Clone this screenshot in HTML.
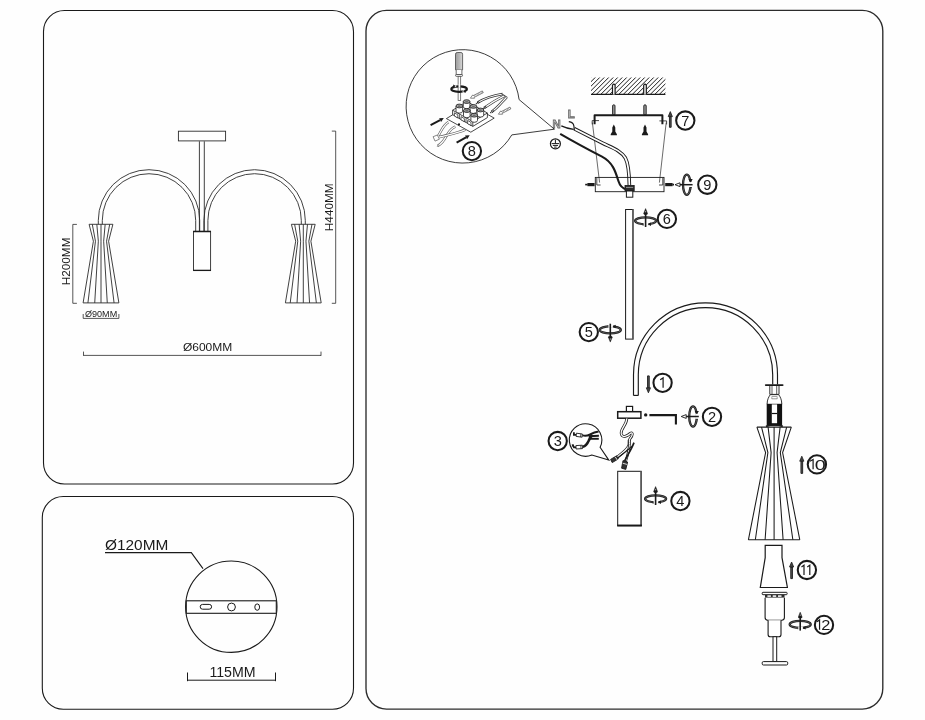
<!DOCTYPE html>
<html><head><meta charset="utf-8"><title>Lamp assembly diagram</title>
<style>
html,body{margin:0;padding:0;background:#fefefe;}
body{width:925px;height:720px;overflow:hidden;font-family:"Liberation Sans",sans-serif;}
svg{display:block;filter:grayscale(1);}
</style></head><body>
<svg width="925" height="720" viewBox="0 0 925 720">
<rect x="0" y="0" width="925" height="720" fill="#fefefe"/>
<g fill="none" stroke="#1a1a1a" stroke-width="1.1">
<rect x="43.5" y="10.5" width="310" height="473.5" rx="21" ry="21"/>
<rect x="42.3" y="496.5" width="311.2" height="212.8" rx="21" ry="21"/>
</g>
<rect x="366.0" y="10.4" width="516.8" height="698.7" rx="20.5" ry="20.5" fill="none" stroke="#2c2c2c" stroke-width="1.35"/>
<g fill="none" stroke="#2b2b2b" stroke-width="0.9">
<rect x="178.4" y="131.2" width="47.2" height="9.7"/>
<line x1="199.4" y1="141.3" x2="199.4" y2="231.3"/><line x1="204.3" y1="141.3" x2="204.3" y2="231.3"/>
<path d="M98.30,224.3 V220.4 A50.7,50.7 0 0 1 199.70,220.4 V231.3"/>
<path d="M102.30,224.3 V220.4 A46.7,46.7 0 0 1 195.70,220.4 V231.3"/>
<path d="M305.30,224.3 V220.4 A50.7,50.7 0 0 0 203.90,220.4 V231.3"/>
<path d="M301.30,224.3 V220.4 A46.7,46.7 0 0 0 207.90,220.4 V231.3"/>
</g>
<rect x="193.5" y="231.4" width="17.1" height="39" fill="#fff" stroke="#2b2b2b" stroke-width="0.9"/>
<line x1="193.2" y1="231.5" x2="211" y2="231.5" stroke="#1a1a1a" stroke-width="1.5"/>
<line x1="193.2" y1="270.4" x2="211" y2="270.4" stroke="#1a1a1a" stroke-width="1.3"/>
<g fill="none" stroke="#2b2b2b" stroke-width="0.9" stroke-linejoin="miter"><polyline points="89.10,224.3 93.40,241.2 83.10,302.9"/><polyline points="92.31,224.3 95.45,241.2 87.93,302.9"/><polyline points="96.83,224.3 98.34,241.2 94.73,302.9"/><polyline points="101.00,224.3 101.00,241.2 101.00,302.9"/><polyline points="105.17,224.3 103.66,241.2 107.27,302.9"/><polyline points="109.69,224.3 106.55,241.2 114.07,302.9"/><polyline points="112.90,224.3 108.60,241.2 118.90,302.9"/><line x1="89.10" y1="224.3" x2="112.90" y2="224.3"/><line x1="83.10" y1="302.9" x2="118.90" y2="302.9"/></g>
<g fill="none" stroke="#2b2b2b" stroke-width="0.9" stroke-linejoin="miter"><polyline points="291.40,224.3 295.70,241.2 285.40,302.9"/><polyline points="294.61,224.3 297.75,241.2 290.23,302.9"/><polyline points="299.13,224.3 300.64,241.2 297.04,302.9"/><polyline points="303.30,224.3 303.30,241.2 303.30,302.9"/><polyline points="307.47,224.3 305.96,241.2 309.56,302.9"/><polyline points="311.99,224.3 308.85,241.2 316.37,302.9"/><polyline points="315.20,224.3 310.90,241.2 321.20,302.9"/><line x1="291.40" y1="224.3" x2="315.20" y2="224.3"/><line x1="285.40" y1="302.9" x2="321.20" y2="302.9"/></g>
<g fill="none" stroke="#2b2b2b" stroke-width="0.8">
<path d="M76.9,224.4 H72.8 V303.3 H76.9"/>
<path d="M83.2,314 V318.4 H118.9 V314"/>
<path d="M83.5,351.6 V355.8 M83.5,355.4 H321 M321,351.6 V355.8"/>
<path d="M331.8,131.1 H335.7 V303.3 H331.8"/>
</g>
<text x="70.3" y="285.3" font-family="Liberation Sans, sans-serif" font-size="11" font-weight="normal" text-anchor="start" fill="#1a1a1a" textLength="47.8" lengthAdjust="spacingAndGlyphs" transform="rotate(-90 70.3 285.3)">H200MM</text>
<text x="333.5" y="231.2" font-family="Liberation Sans, sans-serif" font-size="11.1" font-weight="normal" text-anchor="start" fill="#1a1a1a" textLength="47.9" lengthAdjust="spacingAndGlyphs" transform="rotate(-90 333.5 231.2)">H440MM</text>
<text x="85.0" y="316.8" font-family="Liberation Sans, sans-serif" font-size="8.6" font-weight="normal" text-anchor="start" fill="#1a1a1a" textLength="32.2" lengthAdjust="spacingAndGlyphs">&#216;90MM</text>
<text x="182.9" y="350.8" font-family="Liberation Sans, sans-serif" font-size="10.6" font-weight="normal" text-anchor="start" fill="#1a1a1a" textLength="49.4" lengthAdjust="spacingAndGlyphs">&#216;600MM</text>
<g fill="none" stroke="#1a1a1a" stroke-width="1.1">
<circle cx="231.3" cy="606.7" r="45.7"/>
<path d="M105,552.6 H191.3 L203,568.6"/>
</g>
<rect x="186.3" y="600.8" width="90" height="12.5" fill="#fff" stroke="#1a1a1a" stroke-width="1.1"/>
<g fill="#fff" stroke="#1a1a1a" stroke-width="1">
<rect x="200.2" y="604.4" width="11.4" height="4.8" rx="2.4"/>
<circle cx="231.5" cy="607" r="3.9"/>
<ellipse cx="257.2" cy="607.1" rx="2.4" ry="3.2"/>
</g>
<path d="M187.5,672.5 V681.2 M187.5,680.2 H275.5 M275.5,672.5 V681.2" fill="none" stroke="#1a1a1a" stroke-width="1"/>
<text x="105.0" y="550.2" font-family="Liberation Sans, sans-serif" font-size="14" font-weight="normal" text-anchor="start" fill="#1a1a1a" textLength="63.3" lengthAdjust="spacingAndGlyphs">&#216;120MM</text>
<text x="209.4" y="677.4" font-family="Liberation Sans, sans-serif" font-size="14.4" font-weight="normal" text-anchor="start" fill="#1a1a1a" textLength="46.2" lengthAdjust="spacingAndGlyphs">115MM</text>
<clipPath id="hc"><rect x="591" y="77.6" width="74.4" height="16.4"/></clipPath>
<g clip-path="url(#hc)" stroke="#1c1c1c" stroke-width="1.0"><line x1="573.2" y1="95" x2="591.2" y2="77"/><line x1="577.7" y1="95" x2="595.7" y2="77"/><line x1="582.2" y1="95" x2="600.2" y2="77"/><line x1="586.7" y1="95" x2="604.7" y2="77"/><line x1="591.2" y1="95" x2="609.2" y2="77"/><line x1="595.7" y1="95" x2="613.7" y2="77"/><line x1="600.2" y1="95" x2="618.2" y2="77"/><line x1="604.7" y1="95" x2="622.7" y2="77"/><line x1="609.2" y1="95" x2="627.2" y2="77"/><line x1="613.7" y1="95" x2="631.7" y2="77"/><line x1="618.2" y1="95" x2="636.2" y2="77"/><line x1="622.7" y1="95" x2="640.7" y2="77"/><line x1="627.2" y1="95" x2="645.2" y2="77"/><line x1="631.7" y1="95" x2="649.7" y2="77"/><line x1="636.2" y1="95" x2="654.2" y2="77"/><line x1="640.7" y1="95" x2="658.7" y2="77"/><line x1="645.2" y1="95" x2="663.2" y2="77"/><line x1="649.7" y1="95" x2="667.7" y2="77"/><line x1="654.2" y1="95" x2="672.2" y2="77"/><line x1="658.7" y1="95" x2="676.7" y2="77"/><line x1="663.2" y1="95" x2="681.2" y2="77"/><line x1="667.7" y1="95" x2="685.7" y2="77"/></g>
<line x1="591" y1="94.4" x2="665.4" y2="94.4" stroke="#1a1a1a" stroke-width="1.2"/>
<path d="M612.5,94.4 V85.2 Q613.8,83 615.0999999999999,85.2 V94.4" fill="#fefefe" stroke="#1a1a1a" stroke-width="1.2"/>
<path d="M643.7,94.4 V85.2 Q645.0,83 646.3,85.2 V94.4" fill="#fefefe" stroke="#1a1a1a" stroke-width="1.2"/>
<rect x="612.5999999999999" y="104.8" width="2.4" height="10.4" rx="1.1" fill="#9a9a9a" stroke="#1a1a1a" stroke-width="0.9"/>
<path d="M613.8,124.4 L615.3,127.4 V131.4 L616.9,134.2 V135.2 H610.6999999999999 V134.2 L612.3,131.4 V127.4 Z" fill="#1a1a1a"/>
<rect x="643.8" y="104.8" width="2.4" height="10.4" rx="1.1" fill="#9a9a9a" stroke="#1a1a1a" stroke-width="0.9"/>
<path d="M645.0,124.4 L646.5,127.4 V131.4 L648.1,134.2 V135.2 H641.9 V134.2 L643.5,131.4 V127.4 Z" fill="#1a1a1a"/>
<path d="M594.6,124.2 V115.3 H662.4 V124.2" fill="none" stroke="#1a1a1a" stroke-width="2" stroke-linejoin="round"/>
<path d="M592.2,124.4 V120.6 H599 M659.4,120.9 H666.6 V124.4" fill="none" stroke="#1a1a1a" stroke-width="0.8"/>
<g fill="none" stroke="#2a2a2a" stroke-width="0.7">
<line x1="592.4" y1="122.6" x2="599.6" y2="182.6"/>
<line x1="666.2" y1="122.6" x2="659.4" y2="182.6"/>
</g>
<path d="M574.2,128.7 L602.5,143.1 C612,147.8 621,150.6 625.4,158 C628.6,164 629.2,174 629.4,185.6" fill="none" stroke="#1a1a1a" stroke-width="3.6"/>
<path d="M574.2,128.7 L602.5,143.1 C612,147.8 621,150.6 625.4,158 C628.6,164 629.2,174 629.4,185.6" fill="none" stroke="#fefefe" stroke-width="1.7"/>
<path d="M568.8,121.7 C571.4,122 573.6,123.8 573.9,126 C574.1,127.6 574.2,128.8 574.3,130" fill="none" stroke="#1a1a1a" stroke-width="1.2"/>
<path d="M561.3,125.8 C565,127.6 569,128.6 573.6,129.3" fill="none" stroke="#1a1a1a" stroke-width="1.3"/>
<path d="M560.2,133.8 C575,142.4 590,150.4 602,156.6 C613,162.4 615.6,172 618.4,181 C620,186 622.6,188.6 626.4,189.4" fill="none" stroke="#1a1a1a" stroke-width="2.1"/>
<rect x="595.3" y="177.4" width="68.7" height="14.3" fill="none" stroke="#1a1a1a" stroke-width="0.9"/>
<path d="M596.8,178 V185 H600.6 M659,185 H662.8 V178" fill="none" stroke="#1a1a1a" stroke-width="0.8"/>
<path d="M594.6,184.6 H587.4" stroke="#1a1a1a" stroke-width="3.2" fill="none"/><path d="M587.6,184.6 H585.2" stroke="#1a1a1a" stroke-width="1.6" fill="none"/>
<path d="M665.2,184.6 H672.6" stroke="#1a1a1a" stroke-width="3.2" fill="none"/><path d="M672.4,184.6 H674" stroke="#1a1a1a" stroke-width="1.6" fill="none"/>
<rect x="625" y="185.4" width="9.2" height="5.6" fill="#2a2a2a" stroke="#1a1a1a" stroke-width="0.8"/>
<line x1="626" y1="187.4" x2="633.2" y2="187.4" stroke="#ddd" stroke-width="0.6"/>
<rect x="626.4" y="191" width="6.4" height="6.2" fill="#fff" stroke="#1a1a1a" stroke-width="1"/>
<text x="552.4" y="127.5" font-family="Liberation Sans, sans-serif" font-size="11.4" font-weight="bold" text-anchor="start" fill="#c4c4c4" stroke="#6a6a6a" stroke-width="0.8">N</text>
<text x="567.8" y="118.2" font-family="Liberation Sans, sans-serif" font-size="11.4" font-weight="bold" text-anchor="start" fill="#c4c4c4" stroke="#6a6a6a" stroke-width="0.8">L</text>
<circle cx="555.4" cy="143.8" r="5" fill="#fff" stroke="#1a1a1a" stroke-width="1.2"/>
<path d="M555.4,139.8 V143.6 M551.6,143.6 H559.2 M552.8,145.4 H558 M554.1,147.1 H556.7" fill="none" stroke="#1a1a1a" stroke-width="1"/>
<path d="M669.4499999999999,127.3 V116.60 H671.15 V127.3 Z" fill="#555" stroke="#1a1a1a" stroke-width="0.9" stroke-linejoin="miter"/><path d="M670.3,111.6 L668.1999999999999,116.60 H672.4 Z" fill="#444" stroke="#1a1a1a" stroke-width="0.8" stroke-linejoin="miter"/>
<circle cx="685.3" cy="120.5" r="9.15" fill="#fff" stroke="#1a1a1a" stroke-width="2.05"/><text x="685.3" y="125.61" font-family="Liberation Sans, sans-serif" font-size="14.6" font-weight="normal" text-anchor="middle" fill="#1a1a1a">7</text>
<g transform="translate(686.8 184.7)"><ellipse cx="0" cy="0" rx="3.8" ry="10.1" fill="none" stroke="#1a1a1a" stroke-width="2.3"/><ellipse cx="0" cy="0" rx="3.8" ry="10.1" fill="none" stroke="#bbb" stroke-width="0.35"/><rect x="2.2" y="-3.0" width="3.4" height="5.8" fill="#fefefe"/><path d="M3.8,-2.2 l-2.1,-3.4 h4.2z" fill="#1a1a1a"/><path d="M2.6,2.8 h2.4" stroke="#1a1a1a" stroke-width="0.9"/><line x1="-7" y1="0" x2="5.8" y2="0" stroke="#1a1a1a" stroke-width="1.5"/><path d="M-11.8,0 L-6.8,-1.9 V1.9 Z" fill="#fff" stroke="#1a1a1a" stroke-width="0.9" stroke-linejoin="miter"/></g>
<circle cx="707.3" cy="184.7" r="9.15" fill="#fff" stroke="#1a1a1a" stroke-width="2.05"/><text x="707.3" y="189.81" font-family="Liberation Sans, sans-serif" font-size="14.6" font-weight="normal" text-anchor="middle" fill="#1a1a1a">9</text>
<rect x="625.6" y="209.5" width="7.4" height="129.6" fill="#fff" stroke="#1a1a1a" stroke-width="1"/>
<line x1="632.9" y1="209.2" x2="632.9" y2="339.4" stroke="#5a5a5a" stroke-width="1.5"/>
<g transform="translate(645.6 220.8)"><ellipse cx="0" cy="0" rx="10.5" ry="3.5" fill="none" stroke="#1a1a1a" stroke-width="2.3"/><ellipse cx="0" cy="0" rx="10.5" ry="3.5" fill="none" stroke="#bbb" stroke-width="0.35"/><rect x="-2.6" y="2.1" width="5.4" height="3" fill="#fefefe"/><path d="M2.2,3.5 l3.2,-1.9 v3.6z" fill="#1a1a1a"/><path d="M-2.4,2.4 v2.4" stroke="#1a1a1a" stroke-width="0.9"/><line x1="0" y1="-7.5" x2="0" y2="6.2" stroke="#1a1a1a" stroke-width="1.6"/><path d="M0,-12.2 L-1.9,-7.4 L-1.5,-6.4 H1.5 L1.9,-7.4 Z" fill="#1a1a1a" stroke="#1a1a1a" stroke-width="0.5" stroke-linejoin="round"/><path d="M0,-10.4 L-0.6,-8.6 H0.6 Z" fill="#ccc"/></g>
<circle cx="666.9" cy="218.9" r="9.15" fill="#fff" stroke="#1a1a1a" stroke-width="2.05"/><text x="666.9" y="224.01" font-family="Liberation Sans, sans-serif" font-size="14.6" font-weight="normal" text-anchor="middle" fill="#1a1a1a">6</text>
<g transform="translate(610.3 329.9) scale(1,-1)"><ellipse cx="0" cy="0" rx="10.5" ry="3.5" fill="none" stroke="#1a1a1a" stroke-width="2.3"/><ellipse cx="0" cy="0" rx="10.5" ry="3.5" fill="none" stroke="#bbb" stroke-width="0.35"/><rect x="-2.6" y="2.1" width="5.4" height="3" fill="#fefefe"/><path d="M2.2,3.5 l3.2,-1.9 v3.6z" fill="#1a1a1a"/><path d="M-2.4,2.4 v2.4" stroke="#1a1a1a" stroke-width="0.9"/><line x1="0" y1="-7.5" x2="0" y2="6.2" stroke="#1a1a1a" stroke-width="1.6"/><path d="M0,-12.2 L-1.9,-7.4 L-1.5,-6.4 H1.5 L1.9,-7.4 Z" fill="#1a1a1a" stroke="#1a1a1a" stroke-width="0.5" stroke-linejoin="round"/><path d="M0,-10.4 L-0.6,-8.6 H0.6 Z" fill="#ccc"/></g>
<circle cx="588.8" cy="332.1" r="9.15" fill="#fff" stroke="#1a1a1a" stroke-width="2.05"/><text x="588.8" y="337.21000000000004" font-family="Liberation Sans, sans-serif" font-size="14.6" font-weight="normal" text-anchor="middle" fill="#1a1a1a">5</text>
<g fill="none" stroke="#1a1a1a" stroke-width="1.15">
<path d="M633.50,395.4 V374.8 A72.0,72.0 0 0 1 777.50,374.8 V384.6"/>
<path d="M638.30,395.4 V374.8 A67.2,67.2 0 0 1 772.70,374.8 V384.6"/>
<line x1="633.50" y1="395.4" x2="638.30" y2="395.4"/>
</g>
<path d="M647.55,375.9 V387.80 H649.25 V375.9 Z" fill="#555" stroke="#1a1a1a" stroke-width="0.9" stroke-linejoin="miter"/><path d="M648.4,392.8 L646.3,387.80 H650.5 Z" fill="#444" stroke="#1a1a1a" stroke-width="0.8" stroke-linejoin="miter"/>
<circle cx="662.6" cy="382.8" r="9.15" fill="#fff" stroke="#1a1a1a" stroke-width="2.05"/><g transform="translate(662.6 382.8)"><path d="M-2.40,-3.1 L0.50,-4.9 V4.9" fill="none" stroke="#1a1a1a" stroke-width="1.2" stroke-linejoin="miter"/></g>
<rect x="626.4" y="406.4" width="6.2" height="5.4" fill="#fff" stroke="#1a1a1a" stroke-width="1.2"/>
<rect x="617.7" y="411.7" width="23.2" height="6.5" fill="#fff" stroke="#1a1a1a" stroke-width="1.5"/>
<circle cx="645.7" cy="414.9" r="1.7" fill="#1a1a1a"/>
<path d="M649.4,415.1 H675.9 V424.6" fill="none" stroke="#1a1a1a" stroke-width="2.1"/>
<g transform="translate(693.0 416.5)"><ellipse cx="0" cy="0" rx="3.8" ry="10.1" fill="none" stroke="#1a1a1a" stroke-width="2.3"/><ellipse cx="0" cy="0" rx="3.8" ry="10.1" fill="none" stroke="#bbb" stroke-width="0.35"/><rect x="2.2" y="-3.0" width="3.4" height="5.8" fill="#fefefe"/><path d="M3.8,-2.2 l-2.1,-3.4 h4.2z" fill="#1a1a1a"/><path d="M2.6,2.8 h2.4" stroke="#1a1a1a" stroke-width="0.9"/><line x1="-7" y1="0" x2="5.8" y2="0" stroke="#1a1a1a" stroke-width="1.5"/><path d="M-11.8,0 L-6.8,-1.9 V1.9 Z" fill="#fff" stroke="#1a1a1a" stroke-width="0.9" stroke-linejoin="miter"/></g>
<circle cx="712.0" cy="416.8" r="9.15" fill="#fff" stroke="#1a1a1a" stroke-width="2.05"/><text x="712.0" y="421.91" font-family="Liberation Sans, sans-serif" font-size="14.6" font-weight="normal" text-anchor="middle" fill="#1a1a1a">2</text>
<path d="M626.8,418.6 C626.6,425 620.6,428.6 621.2,433.4 C622,438.6 627.4,436 630.2,433.4 C633,431.4 633,435.6 630.2,438.4 C627.6,441.4 630.4,442.6 628.4,446.4 C626,451 620,454.6 616.4,457.6" fill="none" stroke="#1a1a1a" stroke-width="2.8"/>
<path d="M626.8,418.6 C626.6,425 620.6,428.6 621.2,433.4 C622,438.6 627.4,436 630.2,433.4 C633,431.4 633,435.6 630.2,438.4 C627.6,441.4 630.4,442.6 628.4,446.4 C626,451 620,454.6 616.4,457.6" fill="none" stroke="#fefefe" stroke-width="1.3"/>
<path d="M629.4,440 C629.8,446 628.8,452 625.6,461.6" fill="none" stroke="#1a1a1a" stroke-width="2.4"/>
<path d="M629.4,440 C629.8,446 628.8,452 625.6,461.6" fill="none" stroke="#fefefe" stroke-width="1.0"/>
<path d="M634,442.6 C631.6,449 627.6,455 624.6,461" fill="none" stroke="#1a1a1a" stroke-width="1.7"/>
<path d="M631.6,446 C628,451 621,454.6 617.4,458.6" fill="none" stroke="#1a1a1a" stroke-width="1.2"/>
<path d="M610.6,459.4 L616.6,455.8 L618.2,459 L612.2,462.6 Z" fill="#333" stroke="#1a1a1a" stroke-width="0.9"/>
<path d="M615.2,456.8 L617.4,460.2" stroke="#fff" stroke-width="0.8"/>
<path d="M623,460.6 L627.6,462 L625.8,469.4 L621.6,468.2 Z" fill="#333" stroke="#1a1a1a" stroke-width="0.9"/>
<path d="M622.6,463.2 L627,464.4" stroke="#fff" stroke-width="0.8"/>
<path d="M600.1,447.3 A16.25,16.25 0 1 0 591.9,455 L608.8,460.1 Z" fill="#fefefe" stroke="#1a1a1a" stroke-width="1.1" stroke-linejoin="miter"/>
<g fill="none" stroke="#1a1a1a" stroke-linecap="butt">
<path d="M573.9,432.2 V434.8 H576.6" stroke-width="1.8"/>
<path d="M576.4,433.2 L582.4,434 L582.1,437.2 L576.1,436.4 Z" fill="#fff" stroke-width="0.9"/>
<path d="M580.9,433.8 L580.6,437" stroke-width="0.8"/>
<path d="M582.6,435.4 C585,436.2 587.4,435.8 589.6,434.6 C592.6,433 595.4,431.8 598.6,431.4" stroke-width="2"/>
<path d="M588.6,436.2 C591.6,436 595,435.8 598.9,435.8" stroke-width="1.9"/>
<path d="M589.4,438.8 C592.4,438.8 595.4,438.8 598.8,438.8" stroke-width="1.9"/>
<path d="M572.4,444.4 L574,447.4 H576" stroke-width="1.9"/>
<path d="M571.9,446.2 L573.6,445.2" stroke-width="1"/>
<path d="M575.9,445.6 L582.3,445.2 L582.5,448.6 L576.1,449 Z" fill="#fff" stroke-width="0.9"/>
<path d="M580.8,445.3 L581,448.7" stroke-width="0.8"/>
<path d="M582.8,446.8 C586,446.2 587.6,443.4 588.8,440.6 C589.6,438.6 590.4,436.8 592.4,435" stroke-width="2.6"/>
</g>
<circle cx="557.7" cy="441.0" r="9.15" fill="#fff" stroke="#1a1a1a" stroke-width="2.05"/><text x="557.7" y="446.11" font-family="Liberation Sans, sans-serif" font-size="14.6" font-weight="normal" text-anchor="middle" fill="#1a1a1a">3</text>
<rect x="617.7" y="471.3" width="23.5" height="54.4" fill="#fff" stroke="#1a1a1a" stroke-width="1"/>
<line x1="641.1" y1="471" x2="641.1" y2="526" stroke="#5a5a5a" stroke-width="1.6"/>
<line x1="617.2" y1="525.5" x2="641.9" y2="525.5" stroke="#1a1a1a" stroke-width="1.9"/>
<g transform="translate(655.6 498.8)"><ellipse cx="0" cy="0" rx="10.5" ry="3.5" fill="none" stroke="#1a1a1a" stroke-width="2.3"/><ellipse cx="0" cy="0" rx="10.5" ry="3.5" fill="none" stroke="#bbb" stroke-width="0.35"/><rect x="-2.6" y="2.1" width="5.4" height="3" fill="#fefefe"/><path d="M2.2,3.5 l3.2,-1.9 v3.6z" fill="#1a1a1a"/><path d="M-2.4,2.4 v2.4" stroke="#1a1a1a" stroke-width="0.9"/><line x1="0" y1="-7.5" x2="0" y2="6.2" stroke="#1a1a1a" stroke-width="1.6"/><path d="M0,-12.2 L-1.9,-7.4 L-1.5,-6.4 H1.5 L1.9,-7.4 Z" fill="#1a1a1a" stroke="#1a1a1a" stroke-width="0.5" stroke-linejoin="round"/><path d="M0,-10.4 L-0.6,-8.6 H0.6 Z" fill="#ccc"/></g>
<circle cx="680.4" cy="501.0" r="9.15" fill="#fff" stroke="#1a1a1a" stroke-width="2.05"/><text x="680.4" y="506.11" font-family="Liberation Sans, sans-serif" font-size="14.6" font-weight="normal" text-anchor="middle" fill="#1a1a1a">4</text>
<line x1="765.8" y1="385.1" x2="782.6" y2="385.1" stroke="#1a1a1a" stroke-width="1.9" stroke-linecap="round"/>
<path d="M769.8,386 V394.4 H779 V386" fill="#fff" stroke="#1a1a1a" stroke-width="0.9"/>
<path d="M772,386 V394.4 M776.7,386 V394.4" fill="none" stroke="#1a1a1a" stroke-width="0.7"/>
<path d="M767.1,404.2 C767.1,399.4 769,396.4 770.4,394.6 H778.6 C780,396.4 781.8,399.4 781.8,404.2" fill="#fff" stroke="#1a1a1a" stroke-width="0.9"/>
<path d="M771.6,396.4 H777.4 M771.8,397.2 V398.8 H777.2 V397.2" fill="none" stroke="#555" stroke-width="0.6"/>
<rect x="766.7" y="403.8" width="15.4" height="22" fill="#111"/>
<rect x="771.8" y="404.4" width="5.3" height="18.8" fill="#fff"/>
<line x1="771.8" y1="413.5" x2="777.1" y2="413.5" stroke="#111" stroke-width="1.2"/>
<path d="M766,426.4 Q774.4,423.4 782.8,426.4" fill="none" stroke="#1a1a1a" stroke-width="1.8"/>
<g fill="none" stroke="#1a1a1a" stroke-width="1.05" stroke-linejoin="miter"><polyline points="756.90,427.1 765.60,452.6 748.40,539.8"/><polyline points="761.54,427.1 767.89,452.6 755.34,539.8"/><polyline points="768.08,427.1 771.12,452.6 765.11,539.8"/><polyline points="774.10,427.1 774.10,452.6 774.10,539.8"/><polyline points="780.12,427.1 777.08,452.6 783.10,539.8"/><polyline points="786.66,427.1 780.31,452.6 792.86,539.8"/><polyline points="791.30,427.1 782.60,452.6 799.80,539.8"/><line x1="756.90" y1="427.1" x2="791.30" y2="427.1"/><line x1="748.40" y1="539.8" x2="799.80" y2="539.8"/></g>
<path d="M800.9499999999999,473.4 V461.20 H802.65 V473.4 Z" fill="#555" stroke="#1a1a1a" stroke-width="0.9" stroke-linejoin="miter"/><path d="M801.8,456.2 L799.6999999999999,461.20 H803.9 Z" fill="#444" stroke="#1a1a1a" stroke-width="0.8" stroke-linejoin="miter"/>
<circle cx="816.9" cy="464.4" r="9.15" fill="#fff" stroke="#1a1a1a" stroke-width="2.05"/><g transform="translate(816.9 464.4)"><path d="M-7.00,-3.1 L-3.80,-4.9 V4.9" fill="none" stroke="#1a1a1a" stroke-width="1.2" stroke-linejoin="miter"/><text x="-2.15" y="5.109999999999999" font-family="Liberation Sans, sans-serif" font-size="14.6" font-weight="normal" text-anchor="start" fill="#1a1a1a" textLength="11.0" lengthAdjust="spacingAndGlyphs">0</text></g>
<path d="M765.2,545.3 H782 V557.6 L787.4,587.5 H760.3 L765.2,557.6 Z" fill="#fff" stroke="#1a1a1a" stroke-width="1.2" stroke-linejoin="miter"/>
<path d="M790.75,578.6 V567.00 H792.45 V578.6 Z" fill="#555" stroke="#1a1a1a" stroke-width="0.9" stroke-linejoin="miter"/><path d="M791.6,562.0 L789.5,567.00 H793.7 Z" fill="#444" stroke="#1a1a1a" stroke-width="0.8" stroke-linejoin="miter"/>
<circle cx="806.9" cy="570.0" r="9.15" fill="#fff" stroke="#1a1a1a" stroke-width="2.05"/><g transform="translate(806.9 570.0)"><path d="M-5.40,-3.1 L-2.90,-4.9 V4.9" fill="none" stroke="#1a1a1a" stroke-width="1.2" stroke-linejoin="miter"/><path d="M0.40,-3.1 L2.90,-4.9 V4.9" fill="none" stroke="#1a1a1a" stroke-width="1.2" stroke-linejoin="miter"/></g>
<rect x="765" y="594.6" width="19.5" height="3.2" fill="#2e2e2e"/>
<rect x="767.4" y="595.1" width="3.5" height="1.8" fill="#f4f4f4"/>
<rect x="772.7" y="595.1" width="3.5" height="1.8" fill="#f4f4f4"/>
<rect x="778.0" y="595.1" width="3.5" height="1.8" fill="#f4f4f4"/>
<rect x="762.2" y="592.3" width="24.9" height="2.4" rx="0.8" fill="#fff" stroke="#1a1a1a" stroke-width="1"/>
<path d="M765.1,597.8 V617.6 Q765.1,620.2 767.7,620.2 H781.8 Q784.4,620.2 784.4,617.6 V597.8" fill="#fff" stroke="#1a1a1a" stroke-width="1.1"/>
<path d="M768.1,620.2 V634.4 Q768.1,636.7 770.4,636.7 H778.7 Q781,636.7 781,634.4 V620.2" fill="#fff" stroke="#1a1a1a" stroke-width="1.1"/>
<rect x="773" y="636.7" width="3.7" height="25" fill="#fff" stroke="#1a1a1a" stroke-width="1"/>
<rect x="762.2" y="661.6" width="25.5" height="3.4" rx="1.2" fill="#fff" stroke="#1a1a1a" stroke-width="1"/>
<g transform="translate(800.2 624.4)"><ellipse cx="0" cy="0" rx="10.5" ry="3.5" fill="none" stroke="#1a1a1a" stroke-width="2.3"/><ellipse cx="0" cy="0" rx="10.5" ry="3.5" fill="none" stroke="#bbb" stroke-width="0.35"/><rect x="-2.6" y="2.1" width="5.4" height="3" fill="#fefefe"/><path d="M2.2,3.5 l3.2,-1.9 v3.6z" fill="#1a1a1a"/><path d="M-2.4,2.4 v2.4" stroke="#1a1a1a" stroke-width="0.9"/><line x1="0" y1="-7.5" x2="0" y2="6.2" stroke="#1a1a1a" stroke-width="1.6"/><path d="M0,-12.2 L-1.9,-7.4 L-1.5,-6.4 H1.5 L1.9,-7.4 Z" fill="#1a1a1a" stroke="#1a1a1a" stroke-width="0.5" stroke-linejoin="round"/><path d="M0,-10.4 L-0.6,-8.6 H0.6 Z" fill="#ccc"/></g>
<circle cx="824.0" cy="624.9" r="9.15" fill="#fff" stroke="#1a1a1a" stroke-width="2.05"/><g transform="translate(824.0 624.9)"><path d="M-7.05,-3.1 L-4.45,-4.9 V4.9" fill="none" stroke="#1a1a1a" stroke-width="1.2" stroke-linejoin="miter"/><text x="-2.73" y="5.109999999999999" font-family="Liberation Sans, sans-serif" font-size="14.6" font-weight="normal" text-anchor="start" fill="#1a1a1a" textLength="9.15" lengthAdjust="spacingAndGlyphs">2</text></g>
<path d="M519.1,99.6 A56.7,56.7 0 1 0 511.8,134.9 L554.4,129.2 Z" fill="none" stroke="#1a1a1a" stroke-width="0.85" stroke-linejoin="miter"/>
<linearGradient id="hg" x1="0" y1="0" x2="1" y2="0"><stop offset="0" stop-color="#9c9c9c"/><stop offset="0.55" stop-color="#b8b8b8"/><stop offset="1" stop-color="#dcdcdc"/></linearGradient>
<rect x="458.1" y="76" width="2.6" height="24.6" fill="#fff" stroke="#444" stroke-width="0.7"/>
<path d="M455.5,69.8 V54.2 Q455.5,52.5 457.2,52.5 H460.9 Q462.6,52.5 462.6,54.2 V69.8 Z" fill="url(#hg)" stroke="#444" stroke-width="0.8"/>
<path d="M456.2,69.8 V74.6 H461.9 V69.8" fill="#fff" stroke="#444" stroke-width="0.8"/>
<rect x="455.6" y="74.5" width="6.9" height="1.8" rx="0.6" fill="#fff" stroke="#444" stroke-width="0.8"/>
<ellipse cx="459.1" cy="89.1" rx="7.8" ry="2.7" fill="none" stroke="#1a1a1a" stroke-width="2.2"/>
<rect x="458.5" y="84.4" width="1.8" height="3.4" fill="#fff"/>
<rect x="454.4" y="85.2" width="1.8" height="2" fill="#fefefe"/>
<path d="M453.2,84.6 l2.6,1.5 l-2.6,1.5z" fill="#1a1a1a"/>
<rect x="462.6" y="90.4" width="1.8" height="2.2" fill="#fefefe"/>
<path d="M465.6,90 l-2.6,1.5 l2.6,1.5z" fill="#1a1a1a"/>
<path d="M477.6,102.6 C485,98 494,95.4 502.6,94" fill="none" stroke="#333" stroke-width="2.6" stroke-linecap="butt"/><path d="M477.6,102.6 C485,98 494,95.4 502.6,94" fill="none" stroke="#fefefe" stroke-width="1.2" stroke-linecap="butt"/>
<path d="M484,108 C491,103 497,99.4 504.6,95.6" fill="none" stroke="#333" stroke-width="2.6" stroke-linecap="butt"/><path d="M484,108 C491,103 497,99.4 504.6,95.6" fill="none" stroke="#fefefe" stroke-width="1.2" stroke-linecap="butt"/>
<path d="M491.6,111.8 C497.6,108 502,101.6 506.6,97.2" fill="none" stroke="#333" stroke-width="2.6" stroke-linecap="butt"/><path d="M491.6,111.8 C497.6,108 502,101.6 506.6,97.2" fill="none" stroke="#fefefe" stroke-width="1.2" stroke-linecap="butt"/>
<path d="M501,93.4 L507.6,97.4" stroke="#333" stroke-width="0.8"/>
<path d="M476,103.8 L479.6,101.6 M483,109 L486.6,106.4 M490.4,112.8 L494,110.4" stroke="#1a1a1a" stroke-width="1.6" stroke-dasharray="0.9 0.6"/>
<path d="M448.4,122.2 C444,124.4 441.6,130 438.4,135.6" fill="none" stroke="#555" stroke-width="2.5" stroke-linecap="butt"/><path d="M448.4,122.2 C444,124.4 441.6,130 438.4,135.6" fill="none" stroke="#fefefe" stroke-width="1.3" stroke-linecap="butt"/>
<path d="M455.4,126.6 C450,128.6 448.4,133 446.2,136.4 C444,140.6 441.6,143.6 437.8,145.8" fill="none" stroke="#555" stroke-width="2.5" stroke-linecap="butt"/><path d="M455.4,126.6 C450,128.6 448.4,133 446.2,136.4 C444,140.6 441.6,143.6 437.8,145.8" fill="none" stroke="#fefefe" stroke-width="1.3" stroke-linecap="butt"/>
<path d="M465.4,129.6 C457,133.4 448,134.8 439.6,137" fill="none" stroke="#555" stroke-width="2.5" stroke-linecap="butt"/><path d="M465.4,129.6 C457,133.4 448,134.8 439.6,137" fill="none" stroke="#fefefe" stroke-width="1.3" stroke-linecap="butt"/>
<path d="M433.1,136.7 L437.4,135 L439.4,139.2 L435,141.1 Z" fill="#fefefe" stroke="#555" stroke-width="0.7"/>
<path d="M438.6,144.6 L437.2,146.8" stroke="#555" stroke-width="0.7"/>
<path d="M446.4,118.6 L469.7,104.5 L494.2,118.1 L470.8,132.2 Z" fill="#fff" stroke="#1a1a1a" stroke-width="0.8"/>
<path d="M452.6,114.6 L452.6,110.2 L467,101.6 L487.4,113 L487.4,117.6 L472.8,126.4 Z" fill="#fff" stroke="#1a1a1a" stroke-width="0.8"/>
<path d="M452.6,110.2 L472.8,121.6 L487.4,113 M472.8,121.6 V126.4" fill="none" stroke="#1a1a1a" stroke-width="0.8"/>
<path d="M454.4,112.8 V116 L457.8,118 V114.8 Z M461,116.6 V119.8 L464.4,121.8 V118.6 Z M467.6,120.4 V123.6 L471,125.6 V122.4 Z" fill="#fff" stroke="#1a1a1a" stroke-width="0.7"/>
<path d="M459.4,114.4 V118.8 M466,118.2 V122.6" stroke="#1a1a1a" stroke-width="0.7"/>
<circle cx="459" cy="124.4" r="1.1" fill="#1a1a1a"/>
<path d="M463.3,101.6 V106.8 A3.3,1.9 0 0 0 469.90000000000003,106.8 V101.6 Z" fill="#fff" stroke="#1a1a1a" stroke-width="0.8"/><ellipse cx="466.6" cy="101.6" rx="3.3" ry="1.9" fill="#a6a6a6" stroke="#1a1a1a" stroke-width="0.8"/><ellipse cx="466.6" cy="101.8" rx="1.48" ry="0.95" fill="#6e6e6e"/>
<path d="M456.0,106.0 V111.2 A3.3,1.9 0 0 0 462.6,111.2 V106.0 Z" fill="#fff" stroke="#1a1a1a" stroke-width="0.8"/><ellipse cx="459.3" cy="106.0" rx="3.3" ry="1.9" fill="#a6a6a6" stroke="#1a1a1a" stroke-width="0.8"/><ellipse cx="459.3" cy="106.2" rx="1.48" ry="0.95" fill="#6e6e6e"/>
<path d="M470.09999999999997,106.4 V111.60000000000001 A3.3,1.9 0 0 0 476.7,111.60000000000001 V106.4 Z" fill="#fff" stroke="#1a1a1a" stroke-width="0.8"/><ellipse cx="473.4" cy="106.4" rx="3.3" ry="1.9" fill="#a6a6a6" stroke="#1a1a1a" stroke-width="0.8"/><ellipse cx="473.4" cy="106.60000000000001" rx="1.48" ry="0.95" fill="#6e6e6e"/>
<path d="M477.09999999999997,110.0 V115.2 A3.3,1.9 0 0 0 483.7,115.2 V110.0 Z" fill="#fff" stroke="#1a1a1a" stroke-width="0.8"/><ellipse cx="480.4" cy="110.0" rx="3.3" ry="1.9" fill="#a6a6a6" stroke="#1a1a1a" stroke-width="0.8"/><ellipse cx="480.4" cy="110.2" rx="1.48" ry="0.95" fill="#6e6e6e"/>
<path d="M463.5,110.6 V115.8 A3.3,1.9 0 0 0 470.1,115.8 V110.6 Z" fill="#fff" stroke="#1a1a1a" stroke-width="0.8"/><ellipse cx="466.8" cy="110.6" rx="3.3" ry="1.9" fill="#a6a6a6" stroke="#1a1a1a" stroke-width="0.8"/><ellipse cx="466.8" cy="110.8" rx="1.48" ry="0.95" fill="#6e6e6e"/>
<path d="M470.9,115.2 V120.4 A3.3,1.9 0 0 0 477.5,120.4 V115.2 Z" fill="#fff" stroke="#1a1a1a" stroke-width="0.8"/><ellipse cx="474.2" cy="115.2" rx="3.3" ry="1.9" fill="#a6a6a6" stroke="#1a1a1a" stroke-width="0.8"/><ellipse cx="474.2" cy="115.4" rx="1.48" ry="0.95" fill="#6e6e6e"/>
<line x1="430.60" y1="125.10" x2="440.09" y2="120.07" stroke="#1a1a1a" stroke-width="2.0"/><path d="M443.80,118.10 L441.07,121.92 L439.11,118.21 Z" fill="#1a1a1a"/>
<line x1="456.60" y1="142.70" x2="466.04" y2="137.37" stroke="#1a1a1a" stroke-width="2.0"/><path d="M469.70,135.30 L467.08,139.19 L465.01,135.54 Z" fill="#1a1a1a"/>
<path d="M482.34,90.91 L473.14,95.66 L472.73,94.86 L470.40,98.20 L474.47,98.24 L474.06,97.44 L483.26,92.69 Z" fill="#fff" stroke="#555" stroke-width="0.7"/><line x1="482.80" y1="91.80" x2="473.60" y2="96.55" stroke="#777" stroke-width="2.00" stroke-dasharray="0.5 1"/>
<path d="M509.94,107.11 L501.14,111.66 L500.73,110.86 L498.40,114.20 L502.47,114.24 L502.06,113.44 L510.86,108.89 Z" fill="#fff" stroke="#555" stroke-width="0.7"/><line x1="510.40" y1="108.00" x2="501.60" y2="112.55" stroke="#777" stroke-width="2.00" stroke-dasharray="0.5 1"/>
<circle cx="471.9" cy="151.1" r="9.15" fill="#fff" stroke="#1a1a1a" stroke-width="2.05"/><text x="471.9" y="156.20999999999998" font-family="Liberation Sans, sans-serif" font-size="14.6" font-weight="normal" text-anchor="middle" fill="#1a1a1a">8</text>
</svg>
</body></html>
